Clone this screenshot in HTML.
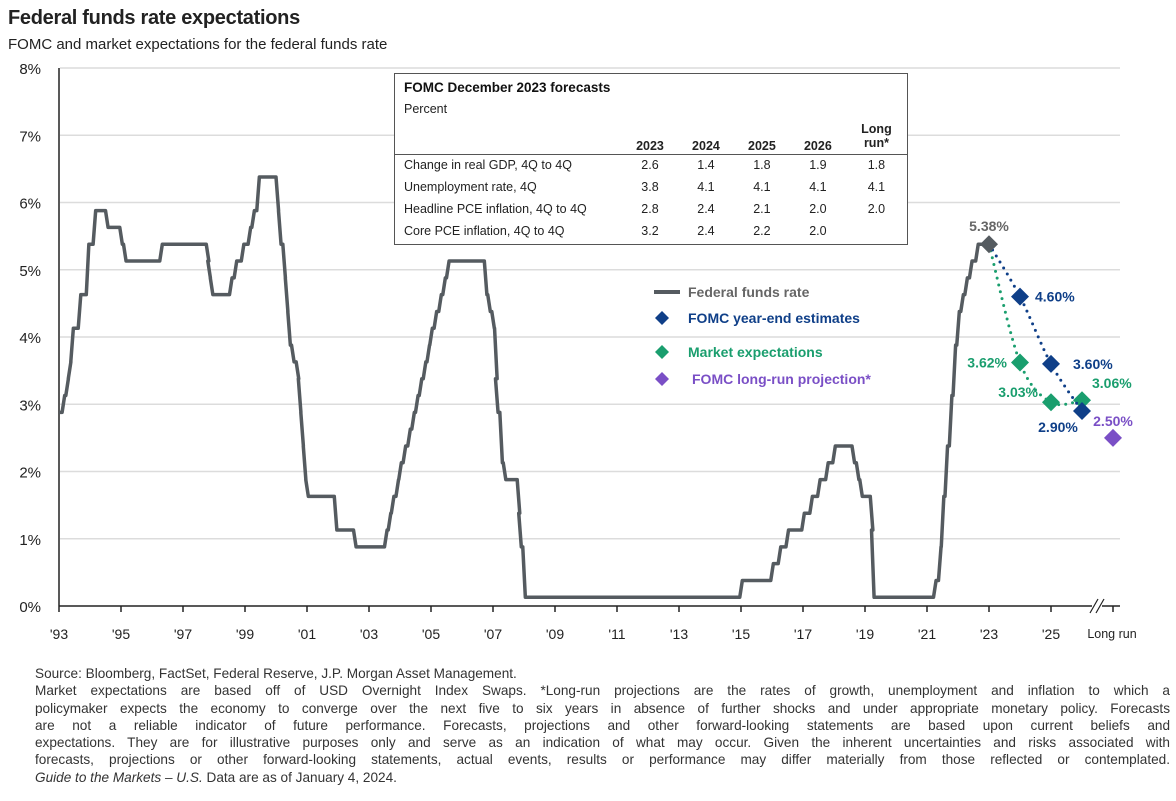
<!DOCTYPE html>
<html><head><meta charset="utf-8">
<style>
body{margin:0;background:#fff;font-family:"Liberation Sans",Arial,sans-serif;}
#wrap{position:relative;width:1176px;height:801px;overflow:hidden;}
.t{position:absolute;white-space:nowrap;}
#foot{position:absolute;left:35px;top:665px;width:1135px;font-size:13.6px;line-height:17.3px;color:#333;letter-spacing:0;}
#foot .j{text-align:justify;text-align-last:justify;}
table{border-collapse:collapse;font-size:12.5px;color:#222;}
</style></head><body>
<div id="wrap">
<div class="t" style="left:8px;top:7px;font-size:20px;font-weight:bold;color:#222;letter-spacing:-0.3px">Federal funds rate expectations</div>
<div class="t" style="left:8px;top:36px;font-size:15px;color:#222">FOMC and market expectations for the federal funds rate</div>
<svg id="chart" width="1176" height="660" style="position:absolute;left:0;top:0"></svg>
<div style="position:absolute;left:394px;top:73px;width:512px;height:170px;border:1.5px solid #555;background:#fff;">
<div style="position:absolute;left:9px;top:6px;font-weight:bold;font-size:13.5px;color:#111">FOMC December 2023 forecasts</div>
<div style="position:absolute;left:9px;top:28px;font-size:12.5px;color:#222">Percent</div>
<table style="position:absolute;left:0;top:44px;width:512px">
<tr style="font-weight:bold;height:36px;border-bottom:1px solid #555"><td style="width:225px"></td><td style="text-align:center;vertical-align:bottom">2023</td><td style="text-align:center;vertical-align:bottom">2024</td><td style="text-align:center;vertical-align:bottom">2025</td><td style="text-align:center;vertical-align:bottom">2026</td><td style="text-align:center;line-height:14px">Long<br>run*</td></tr>
<tr style="height:22px"><td style="padding-left:9px">Change in real GDP, 4Q to 4Q</td><td align="center">2.6</td><td align="center">1.4</td><td align="center">1.8</td><td align="center">1.9</td><td align="center">1.8</td></tr>
<tr style="height:22px"><td style="padding-left:9px">Unemployment rate, 4Q</td><td align="center">3.8</td><td align="center">4.1</td><td align="center">4.1</td><td align="center">4.1</td><td align="center">4.1</td></tr>
<tr style="height:22px"><td style="padding-left:9px">Headline PCE inflation, 4Q to 4Q</td><td align="center">2.8</td><td align="center">2.4</td><td align="center">2.1</td><td align="center">2.0</td><td align="center">2.0</td></tr>
<tr style="height:22px"><td style="padding-left:9px">Core PCE inflation, 4Q to 4Q</td><td align="center">3.2</td><td align="center">2.4</td><td align="center">2.2</td><td align="center">2.0</td><td></td></tr>
</table></div>
<div id="foot">
<div>Source: Bloomberg, FactSet, Federal Reserve, J.P. Morgan Asset Management.</div>
<div class="j">Market expectations are based off of USD Overnight Index Swaps. *Long-run projections are the rates of growth, unemployment and inflation to which a</div>
<div class="j">policymaker expects the economy to converge over the next five to six years in absence of further shocks and under appropriate monetary policy. Forecasts</div>
<div class="j">are not a reliable indicator of future performance. Forecasts, projections and other forward-looking statements are based upon current beliefs and</div>
<div class="j">expectations. They are for illustrative purposes only and serve as an indication of what may occur. Given the inherent uncertainties and risks associated with</div>
<div class="j">forecasts, projections or other forward-looking statements, actual events, results or performance may differ materially from those reflected or contemplated.</div>
<div><i>Guide to the Markets – U.S.</i> Data are as of January 4, 2024.</div>
</div>
</div>
<script>
const rateDates=[1994.0,1994.1,1994.22,1994.3,1994.38,1994.62,1994.88,1995.1,1995.5,1995.96,1996.08,1997.25,1998.75,1998.8,1998.88,1999.5,1999.65,1999.88,2000.1,2000.22,2000.38,2001.0,2001.08,2001.22,2001.3,2001.38,2001.5,2001.65,2001.72,2001.8,2001.88,2001.96,2002.88,2003.5,2004.5,2004.62,2004.72,2004.87,2004.96,2005.1,2005.25,2005.38,2005.5,2005.62,2005.75,2005.87,2005.96,2006.1,2006.25,2006.38,2006.5,2007.72,2007.83,2007.96,2008.05,2008.08,2008.22,2008.33,2008.78,2008.83,2008.96,2015.96,2016.96,2017.2,2017.45,2017.96,2018.22,2018.47,2018.73,2018.96,2019.58,2019.72,2019.83,2020.17,2020.21,2022.21,2022.37,2022.46,2022.58,2022.72,2022.84,2022.96,2023.09,2023.22,2023.37,2023.57];
const rateValues=[2.88,3.13,3.38,3.63,4.13,4.63,5.38,5.88,5.63,5.38,5.13,5.38,5.13,4.88,4.63,4.88,5.13,5.38,5.63,5.88,6.38,5.88,5.38,4.88,4.38,3.88,3.63,3.38,2.88,2.38,1.88,1.63,1.13,0.88,1.13,1.38,1.63,1.88,2.13,2.38,2.63,2.88,3.13,3.38,3.63,3.88,4.13,4.38,4.63,4.88,5.13,4.63,4.38,4.13,3.38,2.88,2.13,1.88,1.38,0.88,0.13,0.38,0.63,0.88,1.13,1.38,1.63,1.88,2.13,2.38,2.13,1.88,1.63,1.13,0.13,0.38,0.88,1.63,2.38,3.13,3.88,4.38,4.63,4.88,5.13,5.38];
const rateEnd=2024.0;
const fcDates=[2024,2025,2026,2027];
const fomcValues=[5.38,4.60,3.60,2.90];
const marketValues=[5.38,3.62,3.03,3.06];
const longRunDate=2028, longRunValue=2.50;
const yTicks=[0,1,2,3,4,5,6,7,8];
const xTickYears=[1993,1995,1997,1999,2001,2003,2005,2007,2009,2011,2013,2015,2017,2019,2021,2023,2025];

const NS="http://www.w3.org/2000/svg",svg=document.getElementById('chart');
const X=d=>59+(d-1994)*31, Y=v=>606-v*67.25;
function mk(tag,a,p){const e=document.createElementNS(NS,tag);for(const k in a)e.setAttribute(k,a[k]);(p||svg).appendChild(e);return e;}
function txt(s,x,y,a){const e=mk('text',Object.assign({x:x,y:y,'font-family':'Liberation Sans, Arial, sans-serif'},a));e.textContent=s;return e;}
yTicks.forEach(v=>{
 if(v>0){const g=mk('line',{x1:60,x2:1120,y1:Y(v),y2:Y(v),stroke:'#dcdcdc','stroke-width':1.5});
 
 }
 const t=txt(v+'%',41,Y(v)+6,{'font-size':15,'text-anchor':'end',fill:'#222'});
 
 
});
mk('line',{x1:59,x2:59,y1:Y(8),y2:606,stroke:'#222','stroke-width':1.5});
const xa=mk('path',{d:'M59 606H1092M1102 606H1120',stroke:'#222','stroke-width':1.5,fill:'none'});


mk('path',{d:'M1090 613L1098 599M1096 613L1104 599',stroke:'#222','stroke-width':1.2,fill:'none'});
xTickYears.forEach(yr=>{
 const x=X(yr+1);
 mk('line',{x1:x,x2:x,y1:606,y2:612,stroke:'#222','stroke-width':1.5});
 const t=txt("'"+String(yr).slice(2),x,639,{'font-size':14,'text-anchor':'middle',fill:'#222'});
 
 
});
mk('line',{x1:X(longRunDate),x2:X(longRunDate),y1:606,y2:612,stroke:'#222','stroke-width':1.5});
const lr=txt('Long run',X(longRunDate)-1,638,{'font-size':12.5,'text-anchor':'middle',fill:'#222'});


let pts=[[X(rateDates[0]),Y(rateValues[0])]];
for(let i=1;i<rateDates.length;i++){pts.push([X(rateDates[i]),Y(rateValues[i-1])]);pts.push([X(rateDates[i]+1/12),Y(rateValues[i])]);}
pts.push([X(rateEnd),Y(rateValues[rateValues.length-1])]);
const ff=mk('polyline',{points:pts.map(p=>p.join(',')).join(' '),fill:'none',stroke:'#555b60','stroke-width':3.5,'stroke-linejoin':'round'});


function smooth(p){let d=`M${p[0][0]} ${p[0][1]}`;for(let i=0;i<p.length-1;i++){const p0=p[i-1]||p[i],p1=p[i],p2=p[i+1],p3=p[i+2]||p2;
 d+=`C${p1[0]+(p2[0]-p0[0])/6} ${p1[1]+(p2[1]-p0[1])/6} ${p2[0]-(p3[0]-p1[0])/6} ${p2[1]-(p3[1]-p1[1])/6} ${p2[0]} ${p2[1]}`;}return d;}
function series(vals,col,name){
 const l=mk('path',{d:smooth(fcDates.map((d,i)=>[X(d),Y(vals[i])])),fill:'none',stroke:col,'stroke-width':3,'stroke-dasharray':'0 7','stroke-linecap':'round'});
 
 
 vals.forEach((v,i)=>{if(i==0)return;const x=X(fcDates[i]),y=Y(v);
  const d=mk('path',{d:`M${x} ${y-9}L${x+9} ${y}L${x} ${y+9}L${x-9} ${y}Z`,fill:col});
  
  });
}
series(marketValues,'#1a9e6e','market-expectations');
series(fomcValues,'#0f3f88','fomc-estimates');
{const x=X(fcDates[0]),y=Y(fomcValues[0]);
 const d=mk('path',{d:`M${x} ${y-9}L${x+9} ${y}L${x} ${y+9}L${x-9} ${y}Z`,fill:'#555b60'});
 
 }
{const x=X(longRunDate),y=Y(longRunValue);
 const d=mk('path',{d:`M${x} ${y-9}L${x+9} ${y}L${x} ${y+9}L${x-9} ${y}Z`,fill:'#7a4fc6'});
 
 }
function lab(v,x,y,col,anchor,name){const t=txt(v.toFixed(2)+'%',x,y,{'font-size':14,'font-weight':'bold',fill:col,'text-anchor':anchor||'start'});
 
 }
lab(fomcValues[0],X(fcDates[0]),Y(fomcValues[0])-13,'#666','middle','label-current');
lab(fomcValues[1],X(fcDates[1])+15,Y(fomcValues[1])+5,'#0f3f88','start','label-fomc-2024');
lab(fomcValues[2],X(fcDates[2])+22,Y(fomcValues[2])+5,'#0f3f88','start','label-fomc-2025');
lab(fomcValues[3],X(fcDates[3])-24,Y(fomcValues[3])+21,'#0f3f88','middle','label-fomc-2026');
lab(marketValues[1],X(fcDates[1])-13,Y(marketValues[1])+5,'#1a9e6e','end','label-market-2024');
lab(marketValues[2],X(fcDates[2])-13,Y(marketValues[2])-5,'#1a9e6e','end','label-market-2025');
lab(marketValues[3],X(fcDates[3])+10,Y(marketValues[3])-12,'#1a9e6e','start','label-market-2026');
lab(longRunValue,X(longRunDate),Y(longRunValue)-12,'#7a4fc6','middle','label-long-run');
const legend=[['Federal funds rate','#666','line'],['FOMC year-end estimates','#0f3f88','d'],['Market expectations','#1a9e6e','d'],['FOMC long-run projection*','#7a4fc6','d']];
const ly=[292,318,352,379];
legend.forEach((e,i)=>{
 if(e[2]=='line')mk('line',{x1:654,x2:680,y1:ly[i],y2:ly[i],stroke:'#555b60','stroke-width':4});
 else mk('path',{d:`M662 ${ly[i]-7}L669 ${ly[i]}L662 ${ly[i]+7}L655 ${ly[i]}Z`,fill:e[1]});
 const t=txt(e[0],i==3?692:688,ly[i]+5,{'font-size':14,'font-weight':'bold',fill:e[1]});
 
 
});
</script>
</body></html>
